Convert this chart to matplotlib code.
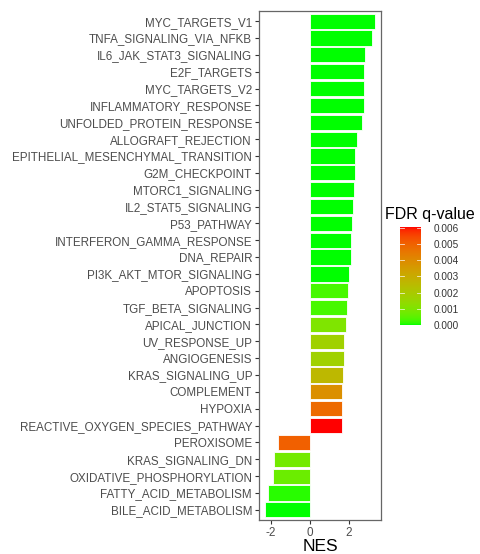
import numpy as np
import matplotlib
matplotlib.use("Agg")
import matplotlib.pyplot as plt
from matplotlib.colors import ListedColormap, Normalize

pathways = [
    "MYC_TARGETS_V1", "TNFA_SIGNALING_VIA_NFKB", "IL6_JAK_STAT3_SIGNALING",
    "E2F_TARGETS", "MYC_TARGETS_V2", "INFLAMMATORY_RESPONSE",
    "UNFOLDED_PROTEIN_RESPONSE", "ALLOGRAFT_REJECTION",
    "EPITHELIAL_MESENCHYMAL_TRANSITION", "G2M_CHECKPOINT", "MTORC1_SIGNALING",
    "IL2_STAT5_SIGNALING", "P53_PATHWAY", "INTERFERON_GAMMA_RESPONSE",
    "DNA_REPAIR", "PI3K_AKT_MTOR_SIGNALING", "APOPTOSIS", "TGF_BETA_SIGNALING",
    "APICAL_JUNCTION", "UV_RESPONSE_UP", "ANGIOGENESIS", "KRAS_SIGNALING_UP",
    "COMPLEMENT", "HYPOXIA", "REACTIVE_OXYGEN_SPECIES_PATHWAY", "PEROXISOME",
    "KRAS_SIGNALING_DN", "OXIDATIVE_PHOSPHORYLATION", "FATTY_ACID_METABOLISM",
    "BILE_ACID_METABOLISM",
]
nes = [3.38, 3.20, 2.86, 2.79, 2.79, 2.78, 2.67, 2.41, 2.33, 2.31, 2.27,
       2.22, 2.17, 2.12, 2.10, 2.02, 1.95, 1.94, 1.85, 1.78, 1.76, 1.73,
       1.68, 1.66, 1.64, -1.64, -1.85, -1.90, -2.15, -2.32]
fdr = [0.0, 0.0, 0.0, 0.0, 0.0, 0.0, 0.0, 0.0, 0.0, 0.0, 0.0,
       0.0, 0.0, 0.0, 0.0, 0.0, 0.0003, 0.0003, 0.0010, 0.0017, 0.0017, 0.0026,
       0.0038, 0.0048, 0.0060, 0.0050, 0.0008, 0.0007, 0.0001, 0.0]
xticks = [-2, 0, 2]
cbar_ticks = [0.000, 0.001, 0.002, 0.003, 0.004, 0.005, 0.006]

# --- Lab-space gradient green -> red (like ggplot scale_fill_gradient) ---
def srgb_to_lin(c):
    c = np.asarray(c, float)
    return np.where(c <= 0.04045, c / 12.92, ((c + 0.055) / 1.055) ** 2.4)

def lin_to_srgb(c):
    c = np.clip(c, 0, 1)
    return np.where(c <= 0.0031308, 12.92 * c, 1.055 * c ** (1 / 2.4) - 0.055)

M = np.array([[0.4124, 0.3576, 0.1805],
              [0.2126, 0.7152, 0.0722],
              [0.0193, 0.1192, 0.9505]])
WP = np.array([0.95047, 1.0, 1.08883])

def f(t):
    d = 6 / 29
    return np.where(t > d ** 3, np.cbrt(t), t / (3 * d * d) + 4 / 29)

def finv(t):
    d = 6 / 29
    return np.where(t > d, t ** 3, 3 * d * d * (t - 4 / 29))

def rgb_to_lab(rgb):
    xyz = M @ srgb_to_lin(rgb) / WP
    fx, fy, fz = f(xyz)
    return np.array([116 * fy - 16, 500 * (fx - fy), 200 * (fy - fz)])

def lab_to_rgb(lab):
    L, a, b = lab
    fy = (L + 16) / 116
    fx = fy + a / 500
    fz = fy - b / 200
    xyz = np.array([finv(fx), finv(fy), finv(fz)]) * WP
    return lin_to_srgb(np.linalg.solve(M, xyz))

lab_lo = rgb_to_lab([0, 1, 0])
lab_hi = rgb_to_lab([1, 0, 0])
cols = [lab_to_rgb(lab_lo + (lab_hi - lab_lo) * t) for t in np.linspace(0, 1, 256)]
cmap = ListedColormap(cols)
norm = Normalize(vmin=0.0, vmax=0.006)

plt.rcParams['font.family'] = ['Liberation Sans', 'DejaVu Sans']

W, H = 480, 554
fig = plt.figure(figsize=(W / 100, H / 100), dpi=100)
ax = fig.add_axes([259 / W, (H - 520) / H, 122 / W, 509 / H])

y = np.arange(len(pathways))[::-1]
ax.barh(y, nes, height=0.9, color=cmap(norm(np.array(fdr))),
        edgecolor='white', linewidth=0.6)
ax.set_yticks(y)
ax.set_yticklabels(pathways)
ax.set_ylim(-0.6, len(pathways) - 1 + 0.6)
xmin, xmax = min(nes + [0]), max(nes + [0])
rng = xmax - xmin
ax.set_xlim(xmin - 0.05 * rng, xmax + 0.05 * rng)
ax.set_xticks(xticks)
ax.set_xticklabels([str(t) for t in xticks])
ax.tick_params(axis='both', colors='#333333', labelcolor='#4D4D4D',
               length=3, width=0.8, labelsize=8.4, pad=2)
for s in ax.spines.values():
    s.set_color('#666666')
    s.set_linewidth(0.9)
ax.set_xlabel("NES", fontsize=12.5, color='black', labelpad=0)

# colorbar legend
cax = fig.add_axes([400 / W, (H - 326) / H, 21 / W, 99 / H])
grad = np.linspace(0, 0.006, 256).reshape(-1, 1)
cax.imshow(grad, aspect='auto', cmap=cmap, norm=norm, origin='lower',
           extent=[0, 1, 0, 0.006])
cax.set_xlim(0, 1)
cax.set_ylim(-0.00005, 0.00605)
for s in cax.spines.values():
    s.set_visible(False)
cax.set_xticks([])
cax.yaxis.tick_right()
cax.set_yticks(cbar_ticks)
cax.set_yticklabels([f"{t:.3f}" for t in cbar_ticks])
cax.tick_params(axis='y', length=0, labelsize=7.2, labelcolor='#333333', pad=9)
for t in cbar_ticks:
    cax.plot([0, 0.2], [t, t], color='white', lw=0.6, alpha=0.8)
    cax.plot([0.8, 1], [t, t], color='white', lw=0.6, alpha=0.8)
fig.text(385 / W, (H - 215) / H, "FDR q-value", fontsize=11.5, color='black',
         ha='left', va='center')

fig.savefig("out.png", dpi=100)
